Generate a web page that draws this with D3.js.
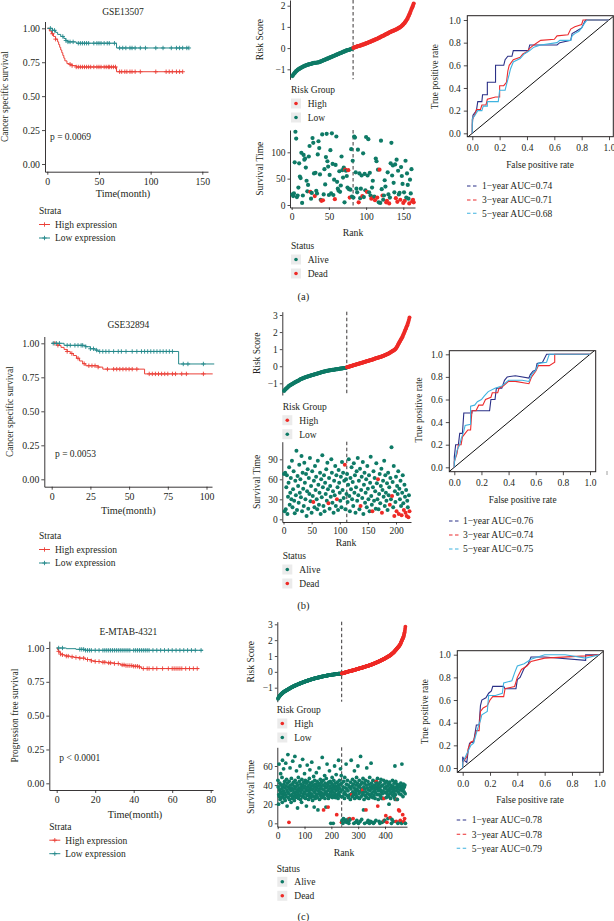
<!DOCTYPE html>
<html><head><meta charset="utf-8">
<script src="https://cdn.jsdelivr.net/npm/d3@7"></script>
<style>body{margin:0;background:#fff}svg{display:block}</style>
</head><body>
<script>
// ---------------- DATA ----------------
// Kaplan-Meier (a) GSE13507
const kmA_highT=[0,2,4,6,8,10,11,12,13,14,15,16,17,19,21,24,28,67,131];
const kmA_highS=[1,.98,.96,.94,.92,.9,.88,.86,.84,.82,.8,.78,.76,.74,.735,.725,.715,.68,.68];
const kmA_highC=[5,8,22,24,28,30,32,34,36,38,40,42,45,48,50,52,55,57,59,60,62,64,66,70,72,75,77,80,82,85,90,105,115,118,121,125,128,131];
const kmA_lowT=[0,5,8,10,13,16,18,20,28,67,137];
const kmA_lowS=[1,.985,.97,.955,.94,.925,.91,.9,.89,.855,.855];
const kmA_lowC=[3,5,7,15,18,20,22,25,30,32,34,36,38,40,45,48,50,52,55,58,60,65,70,73,76,80,82,85,90,95,105,112,120,125,128,131,135,137];
// Kaplan-Meier (b) GSE32894
const kmB_highT=[0,4,6,8,10,12,14,16,18,20,22,30,33,60,104];
const kmB_highS=[1,.985,.97,.955,.94,.925,.91,.89,.87,.85,.835,.825,.81,.775,.775];
const kmB_highC=[2,4,10,13,17,21,24,26,28,30,36,40,42,44,46,48,50,52,55,63,65,67,69,71,73,75,78,80,84,87,98];
const kmB_lowT=[0,8,22,25,28,30,82,105];
const kmB_lowS=[1,.985,.975,.96,.95,.94,.848,.848];
const kmB_lowC=[1,3,5,10,12,15,17,19,20,22,25,27,29,31,33,35,37,40,43,45,48,52,55,58,60,62,64,66,68,70,72,74,76,78,85,88,98];
// Kaplan-Meier (c) E-MTAB-4321
const kmC_highT=[0,.5,1,1.5,2,3,4,5,7,9,12,15,18,20,23,26,30,33,36,40,43,44,74];
const kmC_highS=[1,.985,.975,.965,.955,.95,.945,.94,.935,.93,.925,.915,.905,.9,.895,.89,.885,.875,.87,.865,.86,.848,.848];
const kmC_highC=[1,2,3,5,6,8,10,12,14,16,18,20,22,24,25,27,28,30,32,34,35,36,37,38,39,40,41,42,43,45,47,48,50,52,55,58,60,61,62,63,64,65,67,69,71,73];
const kmC_lowT=[0,5,10,15,76];
const kmC_lowS=[1,.995,.99,.983,.983];
const kmC_lowC=[1,3,12,13,14,15,16,17,18,20,22,24,25,26,27,28,29,30,31,32,33,34,35,36,37,38,40,41,42,43,44,45,46,47,48,50,52,54,56,58,60,62,64,66,68,70,72,75];

// Risk scores (sorted, low group then high group)
const riskA_low=[-1.32,-1.26,-1.21,-1.17,-1.13,-1.09,-1.06,-1.03,-1.0,-0.98,
-0.96,-0.94,-0.92,-0.9,-0.88,-0.86,-0.85,-0.83,-0.82,-0.8,
-0.79,-0.78,-0.77,-0.76,-0.75,-0.74,-0.73,-0.72,-0.71,-0.7,
-0.7,-0.69,-0.69,-0.68,-0.68,-0.67,-0.66,-0.65,-0.63,-0.62,
-0.6,-0.59,-0.57,-0.56,-0.54,-0.53,-0.51,-0.5,-0.48,-0.47,
-0.45,-0.44,-0.42,-0.41,-0.39,-0.38,-0.36,-0.35,-0.33,-0.32,
-0.3,-0.29,-0.27,-0.26,-0.24,-0.23,-0.21,-0.2,-0.18,-0.17,
-0.15,-0.14,-0.12,-0.11,-0.1,-0.09,-0.08,-0.07,-0.06,-0.04,-0.03,-0.01];
const riskA_high=[0.01,0.03,0.04,0.05,0.06,0.08,0.09,0.1,0.11,0.12,
0.13,0.14,0.16,0.17,0.18,0.19,0.21,0.22,0.23,0.25,
0.26,0.28,0.29,0.31,0.32,0.34,0.35,0.37,0.38,0.4,
0.41,0.43,0.44,0.46,0.48,0.5,0.51,0.53,0.55,0.57,
0.58,0.6,0.62,0.64,0.66,0.67,0.69,0.71,0.73,0.75,
0.77,0.78,0.8,0.81,0.83,0.84,0.86,0.87,0.89,0.91,
0.93,0.95,0.97,0.99,1.02,1.05,1.08,1.12,1.16,1.2,1.25,1.3,1.36,1.42,1.5,1.58,1.66,1.75,1.84,1.92,2.0,2.1];
const survA=[20,17,22,81,139,126,15,18,33,79,
54,51,99,4,18,95,86,88,71,46,
26,38,92,112,25,12,23,127,118,60,
17,61,27,22,96,121,108,58,10,8,
134,9,20,68,39,91,135,83,73,19,
57,104,22,136,78,19,48,11,76,130,
44,31,27,64,25,37,92,66,52,71,
5,67,65,55,33,66,30,14,29,106,
16,84,
14,130,128,62,31,24,105,5,60,13,
31,56,17,98,15,59,28,129,25,56,
125,24,61,18,12,33,46,15,16,9,
88,83,14,67,5,67,4,122,30,18,
10,18,47,35,5,8,62,20,3,14,
79,118,56,75,42,24,77,13,86,6,
65,20,23,10,72,55,40,4,24,8,
84,14,60,38,12,3,48,22,68,7,
10,5];
const deadA=[25,31,40,42,58,72,76,78,90,95,101,107,110,112,115,118,122,127,128,131,140,142,146,150,152,158,162,163,164];

const riskB_low=[-1.45,-1.4,-1.36,-1.33,-1.3,-1.27,-1.24,-1.21,-1.18,-1.15,
-1.13,-1.11,-1.09,-1.07,-1.05,-1.03,-1.01,-0.99,-0.97,-0.95,
-0.93,-0.92,-0.9,-0.88,-0.87,-0.85,-0.83,-0.81,-0.79,-0.77,
-0.75,-0.74,-0.73,-0.71,-0.7,-0.68,-0.67,-0.66,-0.64,-0.63,
-0.62,-0.61,-0.6,-0.59,-0.58,-0.57,-0.56,-0.55,-0.54,-0.53,
-0.52,-0.51,-0.5,-0.49,-0.48,-0.47,-0.46,-0.45,-0.44,-0.43,
-0.42,-0.41,-0.4,-0.39,-0.38,-0.37,-0.36,-0.35,-0.34,-0.33,
-0.32,-0.31,-0.31,-0.3,-0.29,-0.28,-0.27,-0.27,-0.26,-0.25,
-0.25,-0.24,-0.23,-0.23,-0.22,-0.22,-0.21,-0.21,-0.2,-0.2,
-0.19,-0.19,-0.18,-0.18,-0.17,-0.17,-0.16,-0.16,-0.15,-0.15,
-0.14,-0.14,-0.13,-0.13,-0.12,-0.12,-0.11,-0.11,-0.1,-0.1,-0.09,-0.08];
const riskB_high=[-0.06,-0.05,-0.04,-0.03,-0.02,-0.01,0,0.01,0.02,0.03,
0.04,0.05,0.06,0.07,0.08,0.09,0.1,0.11,0.12,0.13,
0.14,0.15,0.16,0.17,0.18,0.19,0.2,0.21,0.22,0.23,
0.24,0.25,0.26,0.27,0.28,0.29,0.3,0.31,0.32,0.33,
0.34,0.35,0.36,0.37,0.38,0.39,0.4,0.41,0.43,0.44,
0.45,0.46,0.47,0.48,0.49,0.5,0.51,0.52,0.53,0.54,
0.55,0.56,0.58,0.59,0.6,0.62,0.63,0.64,0.66,0.67,
0.69,0.7,0.72,0.73,0.75,0.77,0.79,0.81,0.83,0.85,
0.87,0.89,0.91,0.93,0.95,0.98,1.01,1.05,1.1,1.16,
1.22,1.28,1.34,1.4,1.46,1.52,1.58,1.64,1.7,1.77,
1.84,1.92,2.0,2.08,2.16,2.24,2.32,2.4,2.5,2.6,2.72,2.85];
const survB=[68,12,70,15,48,66,8,34,55,78,
22,40,62,30,88,18,45,72,28,9,
58,36,103,14,65,50,25,82,40,60,
33,95,12,70,46,20,85,55,30,68,
5,42,75,16,62,38,92,27,50,10,
72,35,26,58,18,80,44,64,30,15,
88,52,22,40,70,8,60,33,96,48,
20,66,12,55,38,75,28,85,45,24,
62,16,50,34,90,70,25,42,10,58,
36,80,20,66,30,48,14,74,55,40,
28,64,18,86,44,70,32,58,82,15,
60,38,
68,26,52,90,35,12,62,45,78,30,
56,20,84,40,66,10,48,72,28,92,
36,58,15,76,20,44,64,32,86,8,
52,70,25,40,60,18,80,46,30,66,
12,55,94,35,22,12,48,72,28,62,
42,16,84,54,30,60,15,38,68,24,
50,76,10,44,58,34,88,20,66,40,
28,54,14,70,36,48,22,62,30,108,
35,56,18,80,5,42,26,64,12,50,
38,72,8,46,30,58,20,6,40,66,
24,14,52,34,10,44,5,28,18,3,36,12];
const deadB=[53,80,95,109,137,158,168,175,189,193,197,201,205,210,214,217,219,222,224];

const riskC_low=[-1.7,-1.66,-1.62,-1.59,-1.56,-1.54,-1.52,-1.5,-1.48,-1.46,-1.44,-1.42,-1.41,-1.39,-1.38,-1.36,-1.35,-1.33,-1.32,-1.3,
-1.29,-1.28,-1.26,-1.25,-1.24,-1.23,-1.22,-1.21,-1.2,-1.19,-1.18,-1.17,-1.16,-1.15,-1.14,-1.13,-1.12,-1.11,-1.1,-1.09,
-1.08,-1.07,-1.06,-1.05,-1.04,-1.03,-1.02,-1.01,-1.0,-0.99,-0.98,-0.97,-0.96,-0.96,-0.95,-0.94,-0.93,-0.92,-0.91,-0.9,
-0.9,-0.89,-0.88,-0.87,-0.86,-0.86,-0.85,-0.84,-0.83,-0.83,-0.82,-0.81,-0.8,-0.8,-0.79,-0.78,-0.77,-0.77,-0.76,-0.75,
-0.75,-0.74,-0.73,-0.73,-0.72,-0.71,-0.71,-0.7,-0.69,-0.69,-0.68,-0.67,-0.67,-0.66,-0.65,-0.65,-0.64,-0.63,-0.63,-0.62,
-0.62,-0.61,-0.6,-0.6,-0.59,-0.59,-0.58,-0.57,-0.57,-0.56,-0.56,-0.55,-0.54,-0.54,-0.53,-0.53,-0.52,-0.52,-0.51,-0.5,
-0.5,-0.49,-0.49,-0.48,-0.48,-0.47,-0.47,-0.46,-0.46,-0.45,-0.45,-0.44,-0.44,-0.43,-0.43,-0.42,-0.42,-0.41,-0.41,-0.4,
-0.4,-0.4,-0.39,-0.39,-0.38,-0.38,-0.37,-0.37,-0.37,-0.36,-0.36,-0.35,-0.35,-0.34,-0.34,-0.34,-0.33,-0.33,-0.32,-0.32,
-0.32,-0.31,-0.31,-0.3,-0.3,-0.3,-0.29,-0.29,-0.29,-0.28,-0.28,-0.27,-0.27,-0.27,-0.26,-0.26,-0.26,-0.25,-0.25,-0.25,
-0.24,-0.24,-0.24,-0.23,-0.23,-0.23,-0.22,-0.22,-0.22,-0.21,-0.21,-0.21,-0.2,-0.2,-0.2,-0.2,-0.19,-0.19,-0.19,-0.18,
-0.18,-0.18,-0.18,-0.17,-0.17,-0.17,-0.17,-0.16,-0.16,-0.16,-0.16,-0.15,-0.15,-0.15,-0.15,-0.14,-0.14,-0.14,-0.14,-0.14,
-0.13,-0.13,-0.13,-0.13,-0.13,-0.12,-0.12,-0.12,-0.12,-0.12,-0.12,-0.11,-0.11,-0.11,-0.11,-0.11,-0.1,-0.1];
const riskC_high=[-0.1,-0.1,-0.09,-0.09,-0.08,-0.08,-0.07,-0.07,-0.06,-0.06,-0.05,-0.05,-0.04,-0.04,-0.03,-0.03,-0.02,-0.02,-0.01,-0.01,
0,0,0.01,0.01,0.02,0.02,0.03,0.03,0.04,0.04,0.04,0.05,0.05,0.06,0.06,0.07,0.07,0.07,0.08,0.08,
0.09,0.09,0.1,0.1,0.11,0.11,0.12,0.12,0.13,0.13,0.14,0.14,0.15,0.15,0.16,0.16,0.17,0.17,0.18,0.18,
0.19,0.19,0.2,0.2,0.21,0.21,0.22,0.22,0.23,0.23,0.24,0.24,0.25,0.25,0.26,0.26,0.27,0.27,0.28,0.28,
0.29,0.29,0.3,0.3,0.31,0.31,0.32,0.33,0.33,0.34,0.34,0.35,0.35,0.36,0.36,0.37,0.37,0.38,0.38,0.39,
0.39,0.4,0.41,0.41,0.42,0.42,0.43,0.44,0.44,0.45,0.46,0.46,0.47,0.48,0.48,0.49,0.5,0.5,0.51,0.52,
0.52,0.53,0.54,0.54,0.55,0.56,0.57,0.57,0.58,0.59,0.6,0.6,0.61,0.62,0.63,0.63,0.64,0.65,0.66,0.66,
0.67,0.68,0.69,0.7,0.7,0.71,0.72,0.73,0.74,0.75,0.75,0.76,0.77,0.78,0.79,0.8,0.8,0.81,0.82,0.83,
0.84,0.85,0.86,0.87,0.88,0.89,0.9,0.91,0.92,0.93,0.94,0.95,0.96,0.97,0.98,0.99,1.0,1.01,1.02,1.03,
1.04,1.06,1.07,1.08,1.1,1.11,1.12,1.14,1.15,1.17,1.18,1.2,1.21,1.23,1.24,1.26,1.28,1.3,1.32,1.34,
1.36,1.38,1.4,1.42,1.44,1.46,1.48,1.5,1.52,1.54,1.56,1.58,1.6,1.62,1.64,1.66,1.69,1.72,1.75,1.78,
1.82,1.86,1.9,1.94,1.98,2.02,2.06,2.1,2.14,2.18,2.22,2.28,2.34,2.42,2.5,2.6,2.72,2.85];
const survC=[45,38,20,30,62,28,35,42,25,33,52,40,27,36,31,48,22,66,38,29,
34,57,41,26,32,44,37,24,30,63,39,28,46,35,18,42,33,72,27,38,
31,1,44,25,36,58,40,29,34,22,47,37,30,41,26,65,35,28,43,32,
39,24,36,70,45,30,27,38,33,55,42,28,35,16,40,31,48,26,37,34,
44,29,60,36,25,41,32,38,22,46,35,28,67,40,30,37,43,27,33,52,
39,31,45,26,36,42,18,34,29,61,38,44,30,35,25,40,33,47,28,56,
37,42,31,27,39,35,64,30,43,24,36,40,28,49,33,17,38,45,32,26,
41,35,29,53,37,30,44,27,39,14,34,42,31,58,36,25,40,33,46,29,
38,32,43,27,36,69,31,40,28,45,14,35,30,39,50,26,42,33,37,17,
47,31,38,62,29,41,34,17,26,43,36,30,55,39,28,44,33,0,37,42,
30,35,48,27,40,33,0,38,45,29,36,60,31,42,27,39,34,51,28,9,
37,43,30,35,26,40,66,32,38,45,29,36,41,57,33,28,50,1,
42,3,35,28,0,38,5,44,31,4,26,48,33,2,37,30,62,41,1,36,
29,45,4,34,40,27,0,3,5,38,30,4,25,43,36,66,31,30,39,28,
46,33,5,41,30,0,37,55,26,44,35,1,32,40,29,48,3,36,42,27,
60,34,0,39,31,45,26,38,2,33,70,41,28,36,4,43,35,30,35,47,
32,14,38,25,42,0,36,29,45,33,14,40,27,58,1,37,31,44,3,35,
26,41,30,0,48,34,38,2,28,63,36,42,31,1,39,27,45,33,0,37,
29,1,40,35,26,44,32,3,38,44,42,36,30,47,18,39,25,34,41,2,
30,37,0,43,35,28,46,33,39,26,1,31,40,26,34,2,45,26,3,37,
3,42,32,38,8,36,27,44,1,33,39,30,5,35,41,28,20,34,43,37,
6,31,26,40,36,0,38,4,33,45,29,39,2,35,32,42,27,37,60,25,
30,44,34,2,38,25,41,25,36,0,33,40,14,38,31,13,39,2,3,35,
42,30,37,0,62,34,39,9,28,36,41,2,33,38,5,40,31,0];
const deadC=[42,171,188,220,238,267,276,281,317,329,368,373,396,397,403,407,419,442,444,451,454,457,466,470,473];

// ROC curves [FPR, TPR]
const rocA_1y=[[0,0],[0,0.07],[0.005,0.16],[0.03,0.2],[0.04,0.28],[0.07,0.28],[0.075,0.34],[0.11,0.34],[0.11,0.45],[0.17,0.45],[0.17,0.6],[0.23,0.6],[0.24,0.65],[0.26,0.68],[0.29,0.68],[0.3,0.73],[0.41,0.73],[0.42,0.78],[0.62,0.78],[0.64,0.8],[0.72,0.82],[0.73,0.88],[0.76,0.9],[0.8,0.93],[0.82,0.98],[0.83,1],[1,1]];
const rocA_3y=[[0,0],[0,0.12],[0.02,0.17],[0.03,0.21],[0.06,0.21],[0.07,0.25],[0.1,0.25],[0.11,0.3],[0.17,0.32],[0.2,0.32],[0.2,0.42],[0.23,0.42],[0.25,0.45],[0.26,0.55],[0.27,0.6],[0.3,0.65],[0.35,0.67],[0.37,0.7],[0.4,0.72],[0.42,0.75],[0.45,0.78],[0.5,0.82],[0.6,0.83],[0.62,0.86],[0.7,0.87],[0.72,0.92],[0.75,0.94],[0.8,0.96],[0.81,1],[1,1]];
const rocA_5y=[[0,0],[0,0.13],[0.02,0.16],[0.04,0.2],[0.07,0.2],[0.08,0.24],[0.11,0.24],[0.11,0.28],[0.19,0.28],[0.2,0.38],[0.24,0.38],[0.25,0.43],[0.27,0.52],[0.28,0.57],[0.3,0.63],[0.35,0.66],[0.38,0.7],[0.42,0.73],[0.45,0.76],[0.5,0.78],[0.62,0.8],[0.64,0.82],[0.72,0.82],[0.73,0.86],[0.75,0.88],[0.78,0.9],[0.8,0.93],[0.82,0.97],[0.84,1],[1,1]];
const rocB_1y=[[0,0],[0,0.09],[0.01,0.2],[0.03,0.2],[0.04,0.3],[0.06,0.3],[0.07,0.48],[0.13,0.48],[0.13,0.5],[0.26,0.5],[0.27,0.6],[0.3,0.6],[0.31,0.7],[0.35,0.7],[0.37,0.77],[0.39,0.8],[0.45,0.81],[0.55,0.79],[0.56,0.82],[0.58,0.85],[0.6,0.86],[0.61,0.92],[0.65,0.93],[0.68,1],[1,1]];
const rocB_3y=[[0,0],[0,0.05],[0.02,0.12],[0.03,0.2],[0.05,0.2],[0.06,0.27],[0.08,0.3],[0.1,0.33],[0.12,0.33],[0.13,0.5],[0.16,0.5],[0.18,0.55],[0.21,0.55],[0.23,0.6],[0.27,0.62],[0.28,0.66],[0.32,0.66],[0.33,0.7],[0.36,0.72],[0.4,0.76],[0.45,0.76],[0.55,0.74],[0.57,0.8],[0.6,0.85],[0.62,0.9],[0.7,0.9],[0.74,0.93],[0.74,1],[1,1]];
const rocB_5y=[[0,0],[0,0.04],[0.02,0.15],[0.04,0.2],[0.05,0.25],[0.07,0.32],[0.08,0.37],[0.12,0.38],[0.12,0.54],[0.15,0.55],[0.17,0.58],[0.2,0.6],[0.22,0.63],[0.25,0.67],[0.3,0.7],[0.35,0.72],[0.4,0.77],[0.5,0.77],[0.55,0.76],[0.57,0.82],[0.6,0.86],[0.62,0.92],[0.68,0.93],[0.7,1],[1,1]];
const rocC_1y=[[0,0],[0,0.1],[0.01,0.07],[0.03,0.05],[0.04,0.15],[0.05,0.22],[0.08,0.23],[0.1,0.38],[0.12,0.38],[0.13,0.55],[0.14,0.6],[0.17,0.62],[0.19,0.66],[0.21,0.68],[0.22,0.72],[0.3,0.72],[0.31,0.7],[0.39,0.7],[0.4,0.78],[0.42,0.8],[0.45,0.88],[0.48,0.92],[0.5,0.98],[0.6,0.98],[0.9,0.95],[0.9,1],[1,1]];
const rocC_3y=[[0,0],[0,0.05],[0.03,0.1],[0.04,0.17],[0.06,0.23],[0.08,0.24],[0.1,0.33],[0.12,0.33],[0.13,0.5],[0.15,0.53],[0.18,0.55],[0.2,0.6],[0.22,0.63],[0.3,0.63],[0.31,0.7],[0.38,0.72],[0.4,0.8],[0.43,0.87],[0.47,0.9],[0.5,0.94],[0.6,0.97],[0.9,0.99],[1,1]];
const rocC_5y=[[0,0],[0,0.05],[0.04,0.15],[0.06,0.2],[0.08,0.22],[0.11,0.35],[0.13,0.42],[0.14,0.47],[0.18,0.5],[0.19,0.64],[0.24,0.64],[0.29,0.66],[0.3,0.75],[0.36,0.77],[0.38,0.84],[0.4,0.9],[0.45,0.92],[0.5,0.96],[0.6,1],[0.75,1],[0.9,0.97],[1,1]];

const survTicks=[0,0.25,0.5,0.75,1];
const rocTicks=[0,0.2,0.4,0.6,0.8,1];
const strataLabels=["High expression","Low expression"];
const rocLabels={A:["1\u2212year AUC=0.74","3\u2212year AUC=0.71","5\u2212year AUC=0.68"],
B:["1\u2212year AUC=0.76","3\u2212year AUC=0.74","5\u2212year AUC=0.75"],
C:["1\u2212year AUC=0.78","3\u2212year AUC=0.78","5\u2212year AUC=0.79"]};

// ---------------- STYLE ----------------
const FONT='"Liberation Serif","DejaVu Serif",serif';
const INK="#231f20";
const KM_RED="#EB4038", KM_TEAL="#25898B";
const PT_RED="#EE2A26", PT_TEAL="#0E7A66";
const ROC_COLS=["#2B3087","#EC2B2D","#3FB3E0"];

const svg=d3.select("body").append("svg").attr("width",614).attr("height",921);

function mkScale(v0,p0,v1,p1,pMin,pMax){
  const s=d3.scaleLinear().domain([v0,v1]).range([p0,p1]);
  return d3.scaleLinear().domain([s.invert(pMin),s.invert(pMax)]).range([pMin,pMax]);
}
function txt(x,y,s,o={}){
  const t=svg.append("text").attr("x",x).attr("y",y).attr("dy","0.35em")
    .attr("font-size",o.fs||10).attr("font-family",FONT).attr("fill",INK)
    .attr("text-anchor",o.anchor||"start").text(s);
  if(o.rot) t.attr("transform",`rotate(-90,${x},${y})`);
  return t;
}
function styleAxis(g,fs){
  g.selectAll("text").attr("font-size",fs).attr("font-family",FONT).attr("fill",INK);
  g.selectAll("line").attr("stroke",INK).attr("stroke-width",0.8);
  g.selectAll("path.domain").attr("stroke",INK).attr("stroke-width",0.9);
}
const minusFmt=d=>(d<0?"\u2212"+(-d):String(d));
function stepAt(T,S,t){let v=S[0];for(let i=0;i<T.length;i++){if(T[i]<=t)v=S[i];}return v;}
function cross(x,y,col,h){h=h||2.2;
  svg.append("path").attr("d",`M${x-h},${y}H${x+h}M${x},${y-h}V${y+h}`).attr("stroke",col).attr("stroke-width",0.9).attr("fill","none");}

// ---------------- KM ----------------
function drawKM(c){
  const [L,R,T,B]=c.panel;
  const x=mkScale(c.xt[0],c.xp[0],c.xt[1],c.xp[1],L,R);
  const y=mkScale(0,c.yp[0],1,c.yp[1],B,T);
  const gy=svg.append("g").attr("transform",`translate(${L},0)`)
    .call(d3.axisLeft(y).tickValues(survTicks).tickFormat(d3.format(".2f")).tickSize(3).tickSizeOuter(0).tickPadding(2));
  const gx=svg.append("g").attr("transform",`translate(0,${B})`)
    .call(d3.axisBottom(x).tickValues(c.xticks).tickSize(3).tickSizeOuter(0).tickPadding(3.5));
  styleAxis(gy,9.8);styleAxis(gx,9.8);
  c.groups.forEach(g=>{
    const pts=g.T.map((t,i)=>[t,g.S[i]]);
    svg.append("path").attr("d",d3.line().curve(d3.curveStepAfter).x(d=>x(d[0])).y(d=>y(d[1]))(pts))
      .attr("fill","none").attr("stroke",g.color).attr("stroke-width",1);
    g.C.forEach(t=>cross(x(t),y(stepAt(g.T,g.S,t)),g.color));
  });
  txt(c.title[0],c.title[1],c.titleText,{anchor:"middle",fs:9.5});
  txt(c.p[0],c.p[1],c.pText,{fs:9.5});
  txt(c.xlab[0],c.xlab[1],"Time(month)",{anchor:"middle",fs:10.3});
  txt(c.ylab[0],c.ylab[1],c.ylabText,{anchor:"middle",rot:true,fs:9.4});
  const [lx,ly]=c.leg;
  txt(lx,ly,"Strata",{fs:9.5});
  c.groups.forEach((g,i)=>{
    const yy=ly+13.5*(i+1);
    svg.append("line").attr("x1",lx).attr("x2",lx+11).attr("y1",yy).attr("y2",yy).attr("stroke",g.color).attr("stroke-width",1);
    cross(lx+5.5,yy,g.color,2.2);
    txt(lx+16,yy,strataLabels[i],{fs:9.5});
  });
}

drawKM({panel:[45,208,21.5,171.7],xt:[0,150],xp:[47.3,202.3],yp:[164,28.3],xticks:[0,50,100,150],
  title:[123,12],titleText:"GSE13507",p:[50,137],pText:"p = 0.0069",xlab:[123,193],ylab:[5,96.6],ylabText:"Cancer specific survival",
  leg:[39,211],groups:[{T:kmA_highT,S:kmA_highS,C:kmA_highC,color:KM_RED},{T:kmA_lowT,S:kmA_lowS,C:kmA_lowC,color:KM_TEAL}]});
drawKM({panel:[44.3,212,336.5,486.7],xt:[0,100],xp:[51.7,206.5],yp:[479.3,343.3],xticks:[0,25,50,75,100],
  title:[128.3,325],titleText:"GSE32894",p:[55,453.3],pText:"p = 0.0053",xlab:[128.3,510],ylab:[10,411.6],ylabText:"Cancer specific survival",
  leg:[39,536],groups:[{T:kmB_highT,S:kmB_highS,C:kmB_highC,color:KM_RED},{T:kmB_lowT,S:kmB_lowS,C:kmB_lowC,color:KM_TEAL}]});
drawKM({panel:[49.3,213,641.2,790],xt:[0,80],xp:[56.7,210.7],yp:[783.3,648],xticks:[0,20,40,60,80],
  title:[128.3,631.7],titleText:"E-MTAB-4321",p:[59.3,757.7],pText:"p < 0.0001",xlab:[135,814],ylab:[15,715.6],ylabText:"Progression free survival",
  leg:[49.3,826.7],groups:[{T:kmC_highT,S:kmC_highS,C:kmC_highC,color:KM_RED},{T:kmC_lowT,S:kmC_lowS,C:kmC_lowC,color:KM_TEAL}]});

// ---------------- RISK ----------------
function legendKeys(x0,y0,title,items,keyX,textX){
  txt(x0,y0,title,{fs:9.5});
  items.forEach((it,i)=>{
    const yy=y0+(i===0?13.5:27.5);
    svg.append("rect").attr("x",keyX-5).attr("y",yy-5).attr("width",10).attr("height",10).attr("fill","#ebebeb");
    svg.append("circle").attr("cx",keyX).attr("cy",yy).attr("r",1.8).attr("fill",it[1]);
    txt(textX,yy,it[0],{fs:9.5});
  });
}
function drawRisk(c){
  const scores=c.low.concat(c.high), nLow=c.low.length;
  const x=mkScale(c.rk[0],c.rp[0],c.rk[1],c.rp[1],c.xl,c.xr);
  const ys=mkScale(c.sv[0],c.sp[0],c.sv[1],c.sp[1],c.sB,c.sT);
  const yt=mkScale(c.tv[0],c.tp[0],c.tv[1],c.tp[1],c.tB,c.tT);
  const g1=svg.append("g").attr("transform",`translate(${c.xl},0)`)
    .call(d3.axisLeft(ys).tickValues(c.sTicks).tickFormat(minusFmt).tickSize(2.5).tickSizeOuter(0).tickPadding(2));
  styleAxis(g1,9.5);
  const cx=x(nLow+0.5);
  [[c.sT,c.sB],[c.tT,c.tB]].forEach(([a,b])=>svg.append("line").attr("x1",cx).attr("x2",cx).attr("y1",a).attr("y2",b)
      .attr("stroke",INK).attr("stroke-width",0.9).attr("stroke-dasharray","3.5,2.5"));
  scores.forEach((v,i)=>svg.append("circle").attr("cx",x(i+1)).attr("cy",ys(v)).attr("r",c.r).attr("fill",i<nLow?PT_TEAL:PT_RED));
  const g2=svg.append("g").attr("transform",`translate(${c.xl},0)`)
    .call(d3.axisLeft(yt).tickValues(c.tTicks).tickSize(2.5).tickSizeOuter(0).tickPadding(2));
  const g3=svg.append("g").attr("transform",`translate(0,${c.tB})`)
    .call(d3.axisBottom(x).tickValues(c.rTicks).tickSize(2.5).tickSizeOuter(0).tickPadding(3));
  styleAxis(g2,9.5);styleAxis(g3,9.5);
  const dead=new Set(c.dead);
  c.surv.forEach((v,i)=>svg.append("circle").attr("cx",x(i+1)).attr("cy",yt(v)).attr("r",c.r).attr("fill",dead.has(i+1)?PT_RED:PT_TEAL));
  txt(c.ylx,(c.sT+c.sB)/2,"Risk Score",{anchor:"middle",rot:true,fs:9.5});
  txt(c.ylx,(c.tT+c.tB)/2,"Survival Time",{anchor:"middle",rot:true,fs:9.5});
  txt(c.rankLab[0],c.rankLab[1],"Rank",{anchor:"middle",fs:9.8});
  legendKeys(c.rg[0],c.rg[1],"Risk Group",[["High",PT_RED],["Low",PT_TEAL]],c.keyX,c.textX);
  legendKeys(c.st[0],c.st[1],"Status",[["Alive",PT_TEAL],["Dead",PT_RED]],c.keyX,c.textX);
  txt(c.cap[0],c.cap[1],c.capText,{anchor:"middle",fs:10.5});
}
drawRisk({low:riskA_low,high:riskA_high,surv:survA,dead:deadA,r:2.1,
  rk:[0,150],rp:[291.7,403.3],xl:290,xr:415,
  sv:[-1,2],sp:[69.3,5.7],sT:0,sB:79.3,sTicks:[-1,0,1,2],
  tv:[0,100],tp:[205,152.3],tT:130,tB:207.5,tTicks:[0,50,100],rTicks:[0,50,100,150],
  ylx:260,rankLab:[353,233],rg:[291,90],st:[291,246],keyX:296,textX:307.7,cap:[303.3,296],capText:"(a)"});
drawRisk({low:riskB_low,high:riskB_high,surv:survB,dead:deadB,r:2.0,
  rk:[0,200],rp:[283.5,396],xl:282.3,xr:411,
  sv:[-1,3],sp:[383.3,315],sT:311.7,sB:395,sTicks:[-1,0,1,2,3],
  tv:[0,90],tp:[519.3,459.3],tT:441.7,tB:522,tTicks:[0,30,60,90],rTicks:[0,50,100,150,200],
  ylx:256.7,rankLab:[346,543],rg:[282.7,406.7],st:[282.7,556],keyX:287.3,textX:299.3,cap:[303.3,605],capText:"(b)"});
drawRisk({low:riskC_low,high:riskC_high,surv:survC,dead:deadC,r:1.9,
  rk:[0,400],rp:[277.7,385],xl:277.3,xr:407,
  sv:[-1,3],sp:[687.7,624.3],sT:621.7,sB:701.7,sTicks:[-1,0,1,2,3],
  tv:[0,60],tp:[823.3,766],tT:747.3,tB:826.7,tTicks:[0,20,40,60],rTicks:[0,100,200,300,400],
  ylx:251,rankLab:[344,852.3],rg:[276.7,710],st:[276.7,868.3],keyX:282.3,textX:294.3,cap:[303.3,916.7],capText:"(c)"});

// ---------------- ROC ----------------
function drawROC(c){
  const [L,R,T,B]=c.box;
  const x=mkScale(0,c.xp[0],1,c.xp[1],L,R);
  const y=mkScale(0,c.yp[0],1,c.yp[1],B,T);
  const lo=Math.max(x.domain()[0],y.domain()[0]), hi=Math.min(x.domain()[1],y.domain()[1]);
  svg.append("line").attr("x1",x(lo)).attr("y1",y(lo)).attr("x2",x(hi)).attr("y2",y(hi)).attr("stroke","#111").attr("stroke-width",1);
  c.curves.forEach((cv,i)=>svg.append("path").attr("d",d3.line().x(d=>x(d[0])).y(d=>y(d[1]))(cv))
     .attr("fill","none").attr("stroke",ROC_COLS[i]).attr("stroke-width",1.1));
  svg.append("rect").attr("x",L).attr("y",T).attr("width",R-L).attr("height",B-T).attr("fill","none").attr("stroke",INK).attr("stroke-width",1);
  const gx=svg.append("g").attr("transform",`translate(0,${B})`).call(d3.axisBottom(x).tickValues(rocTicks).tickFormat(d3.format(".1f")).tickSize(3.5).tickSizeOuter(0).tickPadding(4));
  const gy=svg.append("g").attr("transform",`translate(${L},0)`).call(d3.axisLeft(y).tickValues(rocTicks).tickFormat(d3.format(".1f")).tickSize(3.5).tickSizeOuter(0).tickPadding(3));
  gx.select(".domain").remove();gy.select(".domain").remove();
  styleAxis(gx,9.5);styleAxis(gy,9.5);
  txt(c.xlab[0],c.xlab[1],"False positive rate",{anchor:"middle",fs:9.3});
  txt(c.ylab[0],c.ylab[1],"True positive rate",{anchor:"middle",rot:true,fs:9.3});
  c.labels.forEach((s,i)=>{
    const yy=c.leg[i];
    svg.append("line").attr("x1",c.dash[0]).attr("x2",c.dash[1]).attr("y1",yy).attr("y2",yy).attr("stroke",ROC_COLS[i]).attr("stroke-width",1.1).attr("stroke-dasharray","3.5,2.5");
    txt(c.dash[2],yy,s,{fs:9.5});
  });
}
drawROC({box:[467.3,613.3,15.7,136.7],xp:[472.3,609],yp:[133.3,20],curves:[rocA_1y,rocA_3y,rocA_5y],
  xlab:[540,164.3],ylab:[435,76.7],leg:[186,200,213.3],dash:[467,479,482],labels:rocLabels.A});
drawROC({box:[449.3,595.7,350.7,471.7],xp:[454.3,590],yp:[467.3,354.3],curves:[rocB_1y,rocB_3y,rocB_5y],
  xlab:[522.7,500],ylab:[418.3,410],leg:[521,535,549],dash:[449,460,463],labels:rocLabels.B});
drawROC({box:[457.3,603.3,650.7,772.3],xp:[462.7,599.3],yp:[768,654.7],curves:[rocC_1y,rocC_3y,rocC_5y],
  xlab:[530,800],ylab:[425,711.7],leg:[820,834.3,848.3],dash:[456.7,468.3,471.7],labels:rocLabels.C});
svg.append("line").attr("x1",607).attr("x2",607).attr("y1",471).attr("y2",475).attr("stroke","#888").attr("stroke-width",0.8);
</script>
</body></html>
